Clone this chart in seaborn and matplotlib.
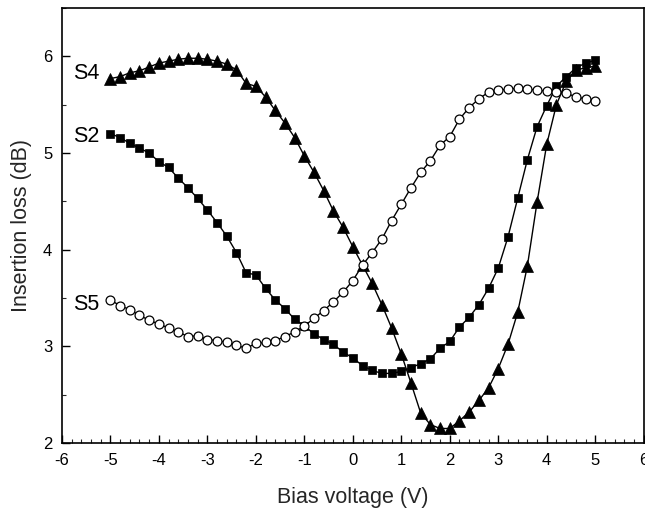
import numpy as np
import pandas as pd
import matplotlib
matplotlib.use("Agg")
import matplotlib.pyplot as plt
import seaborn as sns
from matplotlib.ticker import MultipleLocator

bias = [-5.0, -4.8, -4.6, -4.4, -4.2, -4.0, -3.8, -3.6, -3.4, -3.2,
        -3.0, -2.8, -2.6, -2.4, -2.2, -2.0, -1.8, -1.6, -1.4, -1.2,
        -1.0, -0.8, -0.6, -0.4, -0.2, 0.0, 0.2, 0.4, 0.6, 0.8,
        1.0, 1.2, 1.4, 1.6, 1.8, 2.0, 2.2, 2.4, 2.6, 2.8,
        3.0, 3.2, 3.4, 3.6, 3.8, 4.0, 4.2, 4.4, 4.6, 4.8, 5.0]

s4 = [5.77, 5.79, 5.83, 5.85, 5.89, 5.93, 5.95, 5.97, 5.98, 5.98,
      5.97, 5.95, 5.92, 5.86, 5.72, 5.69, 5.58, 5.44, 5.31, 5.16,
      4.97, 4.80, 4.61, 4.40, 4.23, 4.03, 3.84, 3.65, 3.43, 3.19,
      2.92, 2.62, 2.31, 2.19, 2.15, 2.15, 2.23, 2.32, 2.44, 2.57,
      2.77, 3.02, 3.35, 3.83, 4.49, 5.09, 5.50, 5.74, 5.86, 5.88, 5.90]

s2 = [5.20, 5.16, 5.10, 5.05, 5.00, 4.91, 4.85, 4.74, 4.64, 4.53,
      4.41, 4.28, 4.14, 3.97, 3.76, 3.74, 3.60, 3.48, 3.39, 3.28,
      3.21, 3.13, 3.07, 3.02, 2.94, 2.88, 2.80, 2.75, 2.72, 2.72,
      2.74, 2.78, 2.82, 2.87, 2.98, 3.05, 3.20, 3.30, 3.43, 3.60,
      3.81, 4.13, 4.53, 4.93, 5.27, 5.49, 5.69, 5.79, 5.88, 5.93, 5.96]

s5 = [3.48, 3.42, 3.38, 3.32, 3.27, 3.23, 3.19, 3.15, 3.10, 3.11,
      3.07, 3.06, 3.04, 3.01, 2.98, 3.03, 3.04, 3.06, 3.10, 3.15,
      3.21, 3.29, 3.37, 3.46, 3.56, 3.68, 3.84, 3.97, 4.11, 4.30,
      4.47, 4.64, 4.80, 4.92, 5.08, 5.17, 5.35, 5.47, 5.56, 5.63,
      5.65, 5.66, 5.67, 5.66, 5.65, 5.64, 5.63, 5.62, 5.58, 5.56, 5.54]

labels = ["S4", "S2", "S5"]
label_x = [-5.78, -5.78, -5.78]
label_y = [5.82, 5.17, 3.43]

x_ticks = [-6, -5, -4, -3, -2, -1, 0, 1, 2, 3, 4, 5, 6]
y_ticks = [2, 3, 4, 5, 6]

sns.set_style("white")
plt.rcParams["font.family"] = ["Liberation Sans", "DejaVu Sans"]
plt.rcParams["axes.unicode_minus"] = False

fig = plt.figure(figsize=(6.45, 5.16), dpi=100)
ax = fig.add_axes([0.096, 0.1415, 0.902, 0.843])

df = pd.DataFrame({"bias": bias, "S4": s4, "S2": s2, "S5": s5})

sns.lineplot(data=df, x="bias", y="S4", ax=ax, color="black", linewidth=1.0,
             marker="^", markersize=8, markerfacecolor="black",
             markeredgecolor="black", markeredgewidth=0.5, sort=False)
sns.lineplot(data=df, x="bias", y="S2", ax=ax, color="black", linewidth=1.0,
             marker="s", markersize=5.4, markerfacecolor="black",
             markeredgecolor="black", markeredgewidth=0.5, sort=False)
sns.lineplot(data=df, x="bias", y="S5", ax=ax, color="black", linewidth=1.0,
             marker="o", markersize=6.4, markerfacecolor="white",
             markeredgecolor="black", markeredgewidth=0.9, sort=False)

for t, lx, ly in zip(labels, label_x, label_y):
    ax.text(lx, ly, t, fontsize=15.5, ha="left", va="center", color="black")

ax.set_xlim(-6, 6)
ax.set_ylim(2, 6.5)
ax.set_xticks(x_ticks)
ax.set_xticklabels([str(v) for v in x_ticks])
ax.set_yticks(y_ticks)
ax.set_yticklabels([str(v) for v in y_ticks])
ax.xaxis.set_minor_locator(MultipleLocator(0.2))
ax.yaxis.set_minor_locator(MultipleLocator(0.5))
ax.tick_params(axis="both", which="major", direction="in", length=6,
               width=1, labelsize=12, colors="black", pad=7,
               bottom=True, left=True, top=False, right=False)
ax.tick_params(axis="both", which="minor", direction="in", length=3,
               width=0.8, bottom=True, left=True, top=False, right=False)

ax.set_xlabel("Bias voltage (V)", fontsize=15.5, labelpad=14)
ax.set_ylabel("Insertion loss (dB)", fontsize=15.5, labelpad=8)

for sp in ax.spines.values():
    sp.set_visible(True)
    sp.set_color("black")
    sp.set_linewidth(1.2)

fig.savefig("out.png", dpi=100)
